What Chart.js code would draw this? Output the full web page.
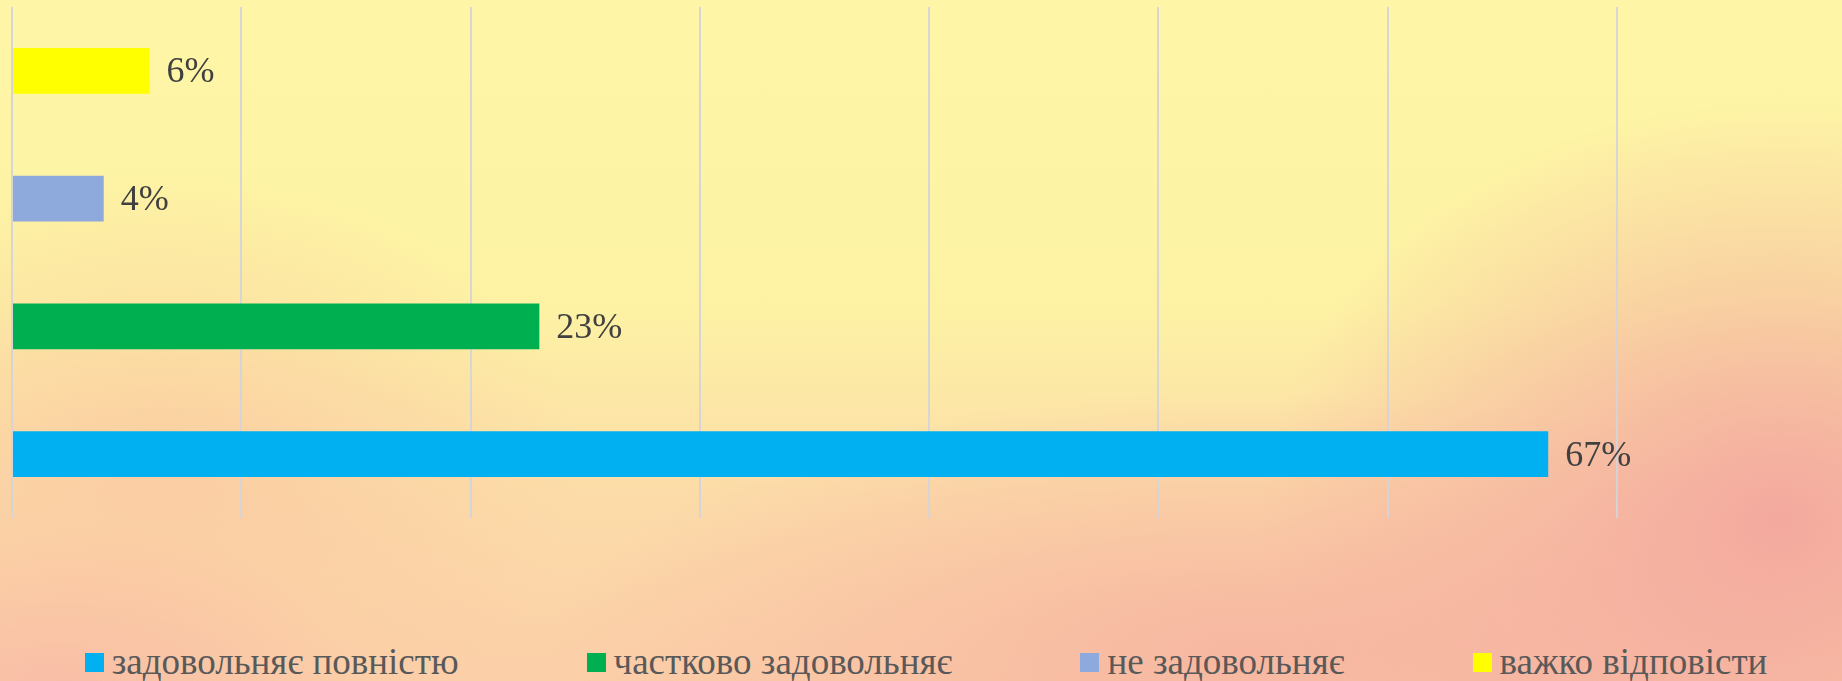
<!DOCTYPE html>
<html>
<head>
<meta charset="utf-8">
<script src="https://cdn.jsdelivr.net/npm/chart.js@4/dist/chart.umd.min.js"></script>
<style>
  html, body { margin: 0; padding: 0; }
  body {
    width: 1842px; height: 681px; overflow: hidden; position: relative;
    background:
      radial-gradient(ellipse 520px 420px at 1780px 520px, rgba(243,166,158,0.95), rgba(243,166,158,0)),
      radial-gradient(ellipse 700px 260px at 1250px 650px, rgba(246,178,160,0.85), rgba(246,178,160,0)),
      radial-gradient(ellipse 420px 300px at 160px 470px, rgba(250,198,160,0.7), rgba(250,198,160,0)),
      radial-gradient(ellipse 300px 160px at 60px 681px, rgba(248,184,168,0.8), rgba(248,184,168,0)),
      linear-gradient(to bottom, #fef6a6 0%, #fdf2a4 45%, #fcdca8 72%, #fbcfa8 100%);
  }
  #wrap { position: absolute; left: 0; top: 0; width: 1842px; height: 530px; }
  #legend {
    position: absolute; left: 5px; top: 640px; width: 1842px;
    display: flex; justify-content: center; gap: 128px;
    font-family: "Liberation Serif", "Times New Roman", serif; font-size: 37px; color: #595959;
  }
  #legend .item { display: flex; align-items: center; white-space: nowrap; }
  #legend .box { width: 19px; height: 19px; margin-right: 8px; margin-top: 2px; }
</style>
</head>
<body>
<div id="wrap"><canvas id="myChart"></canvas></div>
<div id="legend"></div>
<script>
// data (bottom to top)
var labels = ['задовольняє повністю', 'частково задовольняє', 'не задовольняє', 'важко відповісти'];
var values = [67, 23, 4, 6];
var colors = ['#00b0f0', '#00b050', '#8eaadc', '#ffff00'];
var xTicks = [0, 10, 20, 30, 40, 50, 60, 70];

// percent labels at the end of each bar
var barLabels = {
  id: 'barLabels',
  afterDatasetsDraw: function(chart) {
    var ctx = chart.ctx;
    var meta = chart.getDatasetMeta(0);
    ctx.save();
    ctx.font = '36px "Liberation Serif", "Times New Roman", serif';
    ctx.fillStyle = '#404040';
    ctx.textAlign = 'left';
    ctx.textBaseline = 'middle';
    meta.data.forEach(function(bar, i) {
      ctx.fillText(values[i] + '%', bar.x + 17, bar.y + 2);
    });
    ctx.restore();
  }
};

var ctx = document.getElementById('myChart').getContext('2d');
var myChart = new Chart(ctx, {
  type: 'bar',
  data: {
    labels: labels,
    datasets: [{
      data: values,
      backgroundColor: colors,
      barPercentage: 0.36,
      categoryPercentage: 1
    }]
  },
  options: {
    indexAxis: 'y',
    responsive: true,
    maintainAspectRatio: false,
    animation: false,
    layout: { padding: { left: 12, right: 225, top: 7, bottom: 12 } },
    plugins: {
      legend: { display: false },
      tooltip: { enabled: false }
    },
    scales: {
      x: {
        min: xTicks[0],
        max: xTicks[xTicks.length - 1],
        afterBuildTicks: function(axis) {
          axis.ticks = xTicks.map(function(v) { return { value: v }; });
        },
        ticks: { display: false },
        border: { display: false },
        grid: { color: 'rgba(210,212,218,0.9)', lineWidth: 2, drawTicks: false }
      },
      y: {
        reverse: true,
        display: false
      }
    }
  },
  plugins: [barLabels]
});

// legend as html, built from chart data
var legendEl = document.getElementById('legend');
myChart.data.labels.forEach(function(lbl, i) {
  var item = document.createElement('div');
  item.className = 'item';
  item.innerHTML = '<span class="box" style="background:' + colors[i] + '"></span><span>' + lbl + '</span>';
  legendEl.appendChild(item);
});
</script>
</body>
</html>
